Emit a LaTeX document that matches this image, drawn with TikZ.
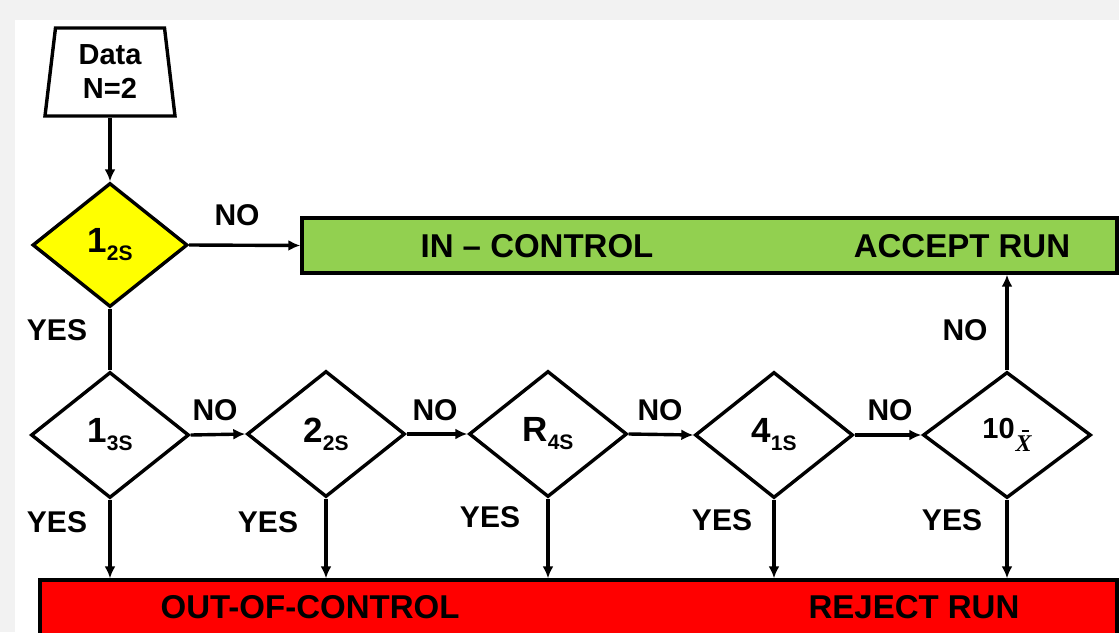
\documentclass[tikz,border=0pt]{standalone}
\usepackage{fontspec}
\setmainfont{Liberation Sans}
\newfontfamily\xserif{Liberation Serif}
\usetikzlibrary{shapes.geometric,arrows.meta}
\definecolor{boxgreen}{HTML}{92D050}
\definecolor{boxred}{HTML}{FF0000}
\definecolor{boxyellow}{HTML}{FFFF00}
\definecolor{margingray}{HTML}{F2F2F2}
\newcommand\sbs[1]{\raisebox{-8pt}{\fontsize{21}{22}\selectfont #1}}
\newcommand\xbarsub{\raisebox{-13pt}{\fontsize{24}{26}\selectfont\xserif\itshape
  \rlap{\hspace{6pt}\raisebox{20pt}{\rule{7pt}{1.4pt}}}X}}
\tikzset{
  dia/.style={diamond, draw, line width=3.4pt, fill=white, inner sep=0pt,
    minimum width=158pt, minimum height=126pt,
    font=\fontsize{35}{38}\selectfont\bfseries},
  lbl/.style={font=\fontsize{30}{36}\selectfont\bfseries, inner sep=0pt},
  boxtxt/.style={font=\fontsize{33}{38}\selectfont\bfseries, inner sep=0pt},
  conn/.style={line width=3.4pt, -{Latex[length=12pt,width=11pt]}},
  bar/.style={draw, line width=3.4pt, inner sep=0pt}
}
\begin{document}
\begin{tikzpicture}[x=1pt,y=-1pt]
\fill[margingray] (0,0) rectangle (1119,632);
\fill[white] (15,20) rectangle (1119,632);
\useasboundingbox (0,0) rectangle (1119,632);

% input
\node[trapezium, trapezium stretches body, trapezium left angle=79, trapezium right angle=79,
  draw, line width=3.4pt, minimum width=130pt, minimum height=88pt, inner sep=0pt,
  align=center, font=\fontsize{29}{34}\selectfont\bfseries] (data) at (110,72) {Data\\N=2};

% first decision
\node[dia, fill=boxyellow, minimum width=155pt, minimum height=124pt] (d1) at (110,245) {1\sbs{2S}};

% bars
\node[bar, fill=boxgreen, minimum width=815pt, minimum height=55pt] (green) at (709.5,245.5) {};
\node[boxtxt] (inc) at (537,246) {IN -- CONTROL};
\node[boxtxt] (acc) at (962,246) {ACCEPT RUN};

\node[bar, fill=boxred, minimum width=1077pt, minimum height=64pt] (red) at (578.5,612) {};
\node[boxtxt] (ooc) at (310,607) {OUT-OF-CONTROL};
\node[boxtxt] (rej) at (914,607) {REJECT RUN};

% second row decisions
\node[dia] (d2) at (110,435) {1\sbs{3S}};
\node[dia] (d3) at (326,434) {2\sbs{2S}};
\node[dia] (d4) at (548,434) {R\sbs{4S}};
\node[dia] (d5) at (774,435) {4\sbs{1S}};
\node[dia, minimum width=168pt, font=\fontsize{29}{30}\selectfont\bfseries] (d6) at (1007,435) {10\kern1pt\xbarsub};

% connectors
\draw[conn] (data.bottom side) -- (d1.north);
\draw[conn] (d1.east) -- (green.west);
\draw[line width=3.4pt] (d1.south) -- (d2.north);
\draw[conn] (d2.east) -- (d3.west);
\draw[conn] (d3.east) -- (d4.west);
\draw[conn] (d4.east) -- (d5.west);
\draw[conn] (d5.east) -- (d6.west);
\draw[conn] (d6.north) -- (d6.north |- green.south);
\foreach \d in {d2,d3,d4,d5,d6}{
  \draw[conn] (\d.south) -- (\d.south |- red.north);
}

% labels
\node[lbl] (no1) at (237,215) {NO};
\node[lbl] (yes1) at (57,330) {YES};
\node[lbl] (no2) at (215,410) {NO};
\node[lbl] (no3) at (435,410) {NO};
\node[lbl] (no4) at (660,410) {NO};
\node[lbl] (no5) at (890,410) {NO};
\node[lbl] (no6) at (965,330) {NO};
\node[lbl] (yes2) at (57,522) {YES};
\node[lbl] (yes3) at (268,522) {YES};
\node[lbl] (yes4) at (490,517) {YES};
\node[lbl] (yes5) at (722,520) {YES};
\node[lbl] (yes6) at (952,520) {YES};
\end{tikzpicture}
\end{document}
